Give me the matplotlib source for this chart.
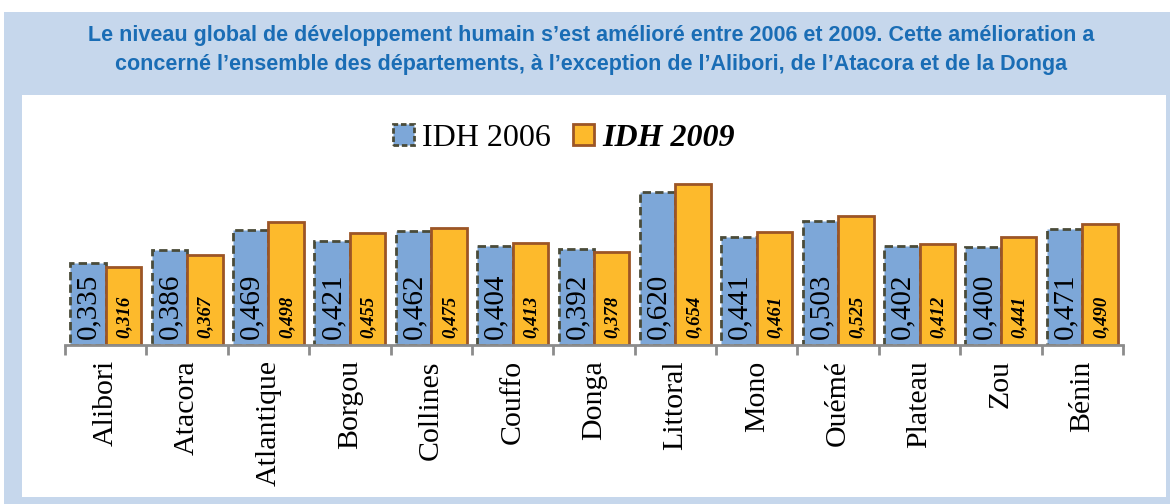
import numpy as np
import matplotlib
matplotlib.use("Agg")
import matplotlib.pyplot as plt
from matplotlib import font_manager
from matplotlib.patches import Rectangle, Patch

categories = ["Alibori", "Atacora", "Atlantique", "Borgou", "Collines", "Couffo",
              "Donga", "Littoral", "Mono", "Ouémé", "Plateau", "Zou", "Bénin"]
idh_2006 = [0.335, 0.386, 0.469, 0.421, 0.462, 0.404, 0.392, 0.620, 0.441, 0.503,
            0.402, 0.400, 0.471]
idh_2009 = [0.316, 0.367, 0.498, 0.455, 0.475, 0.413, 0.378, 0.654, 0.461, 0.525,
            0.412, 0.441, 0.490]
series_names = ["IDH 2006", "IDH 2009"]
title = ("Le niveau global de développement humain s\u2019est amélioré entre 2006 et 2009. "
         "Cette amélioration a\nconcerné l\u2019ensemble des départements, "
         "à l\u2019exception de l\u2019Alibori, de l\u2019Atacora et de la Donga")

installed = {f.name for f in font_manager.fontManager.ttflist}
title_font = "Liberation Sans Narrow" if "Liberation Sans Narrow" in installed else "Liberation Sans"
serif = "Liberation Serif"

W, H = 1170, 504
fig = plt.figure(figsize=(W / 100, H / 100), dpi=100)
fig.patch.set_facecolor("white")


def px_rect(x0, y0, x1, y1, color):
    fig.patches.append(Rectangle((x0 / W, 1 - y1 / H), (x1 - x0) / W, (y1 - y0) / H,
                                 transform=fig.transFigure, facecolor=color,
                                 edgecolor="none", zorder=-10))


px_rect(4, 12, 1170, 504, "#c6d7ec")
px_rect(22, 95, 1166, 497, "white")

# two-line heading in the blue band
fig.text(591 / W, 1 - 50 / H, title, ha="center", va="center", fontsize=15.5,
         fontweight="bold", color="#1a6db5", family=title_font, linespacing=1.45)

blue, blue_edge = "#7da7d8", "#4a4b39"
orange, orange_edge = "#fdba2c", "#9c5526"

ax = fig.add_axes([65 / W, 1 - 345 / H, (1123 - 65) / W, (345 - 99) / H])
ax.set_facecolor("none")
x = np.arange(len(categories))
bw = 0.436
ax.bar(x - bw / 2, idh_2006, bw, color=blue, edgecolor=blue_edge,
       linewidth=2, linestyle=(0, (3, 1.5)), zorder=2)
ax.bar(x + bw / 2, idh_2009, bw, color=orange, edgecolor=orange_edge,
       linewidth=2, zorder=2)

# value labels, rotated, sitting at the foot of each bar
for xi, v in zip(x, idh_2006):
    ax.annotate(f"{v:.3f}".replace(".", ","), (xi - bw / 2, 0), xytext=(0.5, 4),
                textcoords="offset points", rotation=90, ha="center", va="bottom",
                fontsize=21, family=serif, color="black", zorder=3)
for xi, v in zip(x, idh_2009):
    ax.annotate(f"{v:.3f}".replace(".", ","), (xi + bw / 2, 0), xytext=(0.5, 5),
                textcoords="offset points", rotation=90, ha="center", va="bottom",
                fontsize=13.5, family=serif, fontweight="bold", fontstyle="italic",
                color="black", zorder=3)

ax.set_xlim(-0.5, len(categories) - 0.5)
ax.set_ylim(0, 1.0)
for s in ["top", "right", "left"]:
    ax.spines[s].set_visible(False)
ax.spines["bottom"].set_color("#8c8c8c")
ax.spines["bottom"].set_linewidth(2)
ax.spines["bottom"].set_zorder(4)
ax.set_yticks([])
ax.set_xticks(x)
ax.set_xticklabels(categories, rotation=90, fontsize=21.5, family=serif)
ax.tick_params(axis="x", which="major", length=0, pad=11)
ax.set_xticks(np.arange(-0.5, len(categories)), minor=True)
ax.tick_params(axis="x", which="minor", length=7, width=2, color="#8c8c8c",
               direction="out")

handles = [Patch(facecolor=blue, edgecolor=blue_edge, linewidth=2, linestyle=(0, (2, 1))),
           Patch(facecolor=orange, edgecolor=orange_edge, linewidth=2)]
leg = fig.legend(handles, series_names, loc="center", bbox_to_anchor=(564 / W, 1 - 138 / H),
                 ncol=2, frameon=False, prop={"family": serif, "size": 23},
                 handlelength=0.65, handleheight=0.65, handletextpad=0.25,
                 columnspacing=0.7)
leg.get_texts()[1].set_fontweight("bold")
leg.get_texts()[1].set_fontstyle("italic")

fig.savefig("out.png", dpi=100)
